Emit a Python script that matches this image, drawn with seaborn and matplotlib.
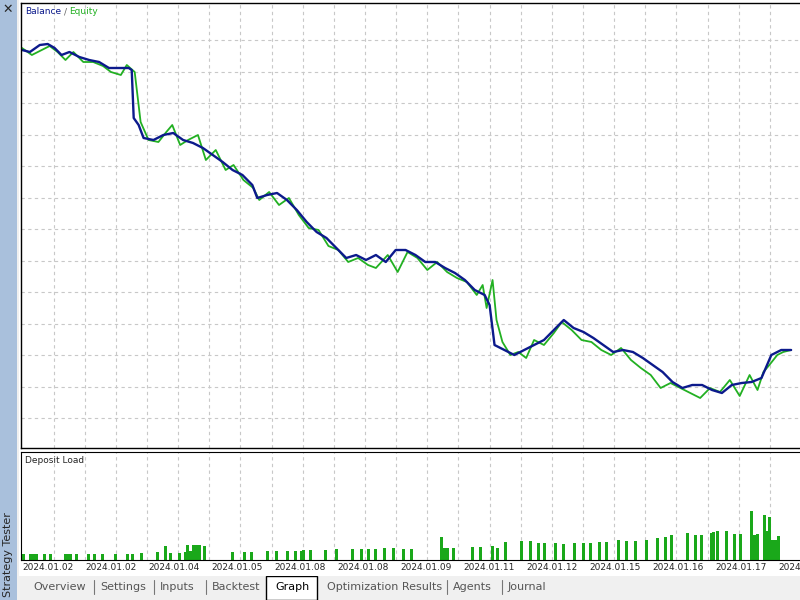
import matplotlib
matplotlib.use("Agg")
import matplotlib.pyplot as plt
import seaborn as sns
import numpy as np
import pandas as pd
from matplotlib.patches import Rectangle

sns.set_style("white")
plt.rcParams['font.family'] = ['DejaVu Sans']

# time axis position (chart units), balance values
bal_t = [22,30,40,48,55,62,70,80,90,100,110,120,130,133,135,140,145,155,165,175,185,195,205,215,225,235,245,255,260,270,280,290,300,310,320,330,340,350,360,370,380,390,400,410,420,430,440,450,460,470,480,490,495,500,510,520,530,540,550,560,570,580,590,600,610,620,630,640,650,660,670,680,690,700,710,720,730,740,750,760,770,780,790,800]
bal_y = [50,52,45,44,48,55,52,57,60,62,68,68,68,70,118,125,138,140,135,133,140,143,148,155,162,170,175,185,198,195,193,200,210,222,232,238,248,258,255,260,255,262,250,250,255,262,262,268,273,280,290,295,305,345,350,355,350,345,340,330,320,328,332,338,345,352,350,352,358,365,372,382,388,385,385,390,393,385,383,382,378,355,350,350]
eq_t = [22,32,42,50,58,66,74,84,94,104,112,122,128,136,142,150,160,168,174,182,190,200,208,218,228,236,246,256,262,272,282,292,302,312,322,332,342,352,362,372,380,392,402,412,422,432,442,452,462,472,482,488,492,498,502,508,516,524,532,540,550,560,568,578,588,598,608,618,628,638,648,658,668,678,688,698,708,718,728,738,748,758,766,772,778,786,792,800]
eq_y = [48,55,50,46,52,60,52,62,62,66,72,75,65,72,122,140,142,132,125,145,140,135,160,150,170,165,180,188,200,192,205,198,215,228,230,246,250,262,258,265,268,255,272,252,258,270,262,272,278,282,295,285,308,280,320,342,355,352,358,340,345,333,322,330,340,342,350,355,348,360,368,375,388,383,388,393,398,388,392,380,396,375,390,372,365,355,352,350]
# deposit load bars: time position, load
dep_t = [23,30,33,36,44,50,66,69,71,77,89,95,103,116,128,133,142,159,167,172,181,187,189,192,195,198,201,206,234,247,254,270,279,290,298,304,306,313,329,340,356,365,372,379,388,397,407,415,446,449,452,458,477,485,497,502,511,527,536,544,550,561,569,580,589,597,606,613,625,633,642,653,664,672,678,695,703,709,719,721,725,734,742,748,759,762,765,773,776,778,781,784,787]
dep_h = [6,6,6,6,6,6,6,6,6,6,6,6,6,6,6,6,7,8,14,7,7,8,15,9,15,15,15,14,8,8,8,9,9,9,9,9,10,10,10,11,11,11,11,11,12,12,11,11,23,12,12,12,13,13,14,12,18,19,19,17,17,17,16,17,17,17,18,18,20,19,19,20,22,23,25,27,25,25,27,28,29,29,26,26,49,25,26,45,29,43,20,20,24]
date_labels = ["2024.01.02","2024.01.02","2024.01.04","2024.01.05","2024.01.08","2024.01.08","2024.01.09","2024.01.11","2024.01.12","2024.01.15","2024.01.16","2024.01.17","2024.01.18"]
tabs = ["Overview","Settings","Inputs","Backtest","Graph","Optimization Results","Agents","Journal"]

W, H = 800, 600
fig = plt.figure(figsize=(8, 6), dpi=100)
fig.patch.set_facecolor("#f0f0f0")

def fax(x0, y0, x1, y1):
    return fig.add_axes([x0 / W, 1 - y1 / H, (x1 - x0) / W, (y1 - y0) / H])

sb = fax(0, 0, 17, 600)
sb.set_facecolor("#a9c0dc"); sb.set_xticks([]); sb.set_yticks([])
for s in sb.spines.values(): s.set_visible(False)
sb.text(0.5, 0.005, "Strategy Tester", rotation=90, ha="center", va="bottom", fontsize=8, transform=sb.transAxes)
fig.text(8 / W, 1 - 9 / H, "✕", ha="center", va="center", fontsize=9)

bg = fax(19, 0, 800, 576)
bg.set_facecolor("white"); bg.set_xticks([]); bg.set_yticks([])
for s in bg.spines.values(): s.set_visible(False)

xgrid = [54 + 31.5 * k for k in range(25)]
ygrid = [1000 - (40 + 31.5 * k) for k in range(13)]

ax = fax(21, 3, 801, 448)
df_b = pd.DataFrame({"t": bal_t, "v": [1000 - y for y in bal_y]})
df_e = pd.DataFrame({"t": eq_t, "v": [1000 - y for y in eq_y]})
sns.lineplot(data=df_e, x="t", y="v", ax=ax, color="#22b022", lw=1.3)
sns.lineplot(data=df_b, x="t", y="v", ax=ax, color="#0c1a8c", lw=1.7)
ax.set_xlim(21, 801); ax.set_ylim(1000 - 448, 1000 - 3)
ax.set_xticks(xgrid); ax.set_yticks(ygrid)
ax.set_xticklabels([]); ax.set_yticklabels([])
ax.tick_params(length=0)
ax.grid(True, ls=(0, (3, 3)), color="#c8c8c8", lw=0.8)
ax.set_xlabel(""); ax.set_ylabel("")
for s in ax.spines.values(): s.set_color("black"); s.set_linewidth(1)
ax.annotate("Balance", xy=(0, 1), xycoords="axes fraction", xytext=(3, -3), textcoords="offset points",
            color="#0c1a8c", fontsize=6.5, va="top")
ax.annotate("/", xy=(0, 1), xycoords="axes fraction", xytext=(31, -3), textcoords="offset points",
            color="#666666", fontsize=6.5, va="top")
ax.annotate("Equity", xy=(0, 1), xycoords="axes fraction", xytext=(35, -3), textcoords="offset points",
            color="#22b022", fontsize=6.5, va="top")

ax2 = fax(21, 452, 801, 560)
ax2.vlines(dep_t, 0, dep_h, colors="#1aa81a", lw=1.0, antialiased=False)
ax2.set_xlim(21, 801); ax2.set_ylim(0, 108)
ax2.set_xticks(xgrid); ax2.set_yticks([])
ax2.set_xticklabels([]); ax2.tick_params(length=0)
ax2.grid(True, axis="x", ls=(0, (3, 3)), color="#c8c8c8", lw=0.8)
for s in ax2.spines.values(): s.set_color("black")
ax2.annotate("Deposit Load", xy=(0, 1), xycoords="axes fraction", xytext=(3, -3), textcoords="offset points",
             fontsize=6.5, va="top")
for i, lab in enumerate(date_labels):
    x = 52 + 63 * i
    fig.text((x - 30) / W, 1 - 568 / H, lab, fontsize=6.5, va="center", ha="left")

tab_x = [33, 100, 160, 212, 275, 327, 453, 508]
for i, (lab, x) in enumerate(zip(tabs, tab_x)):
    col = "black" if lab == "Graph" else "#555555"
    fig.text(x / W, 1 - 587 / H, lab, fontsize=8, va="center", ha="left", color=col, zorder=5)
    if i > 0 and lab != "Graph" and tabs[i - 1] != "Graph":
        fig.add_artist(plt.Line2D([(x - 6) / W] * 2, [1 - 580 / H, 1 - 594 / H], color="#777777", lw=0.8))
fig.add_artist(Rectangle((266 / W, 0), 51 / W, 24 / H, facecolor="white", edgecolor="black", lw=1, zorder=-1))
fig.savefig("out.png", dpi=100, facecolor=fig.get_facecolor())
